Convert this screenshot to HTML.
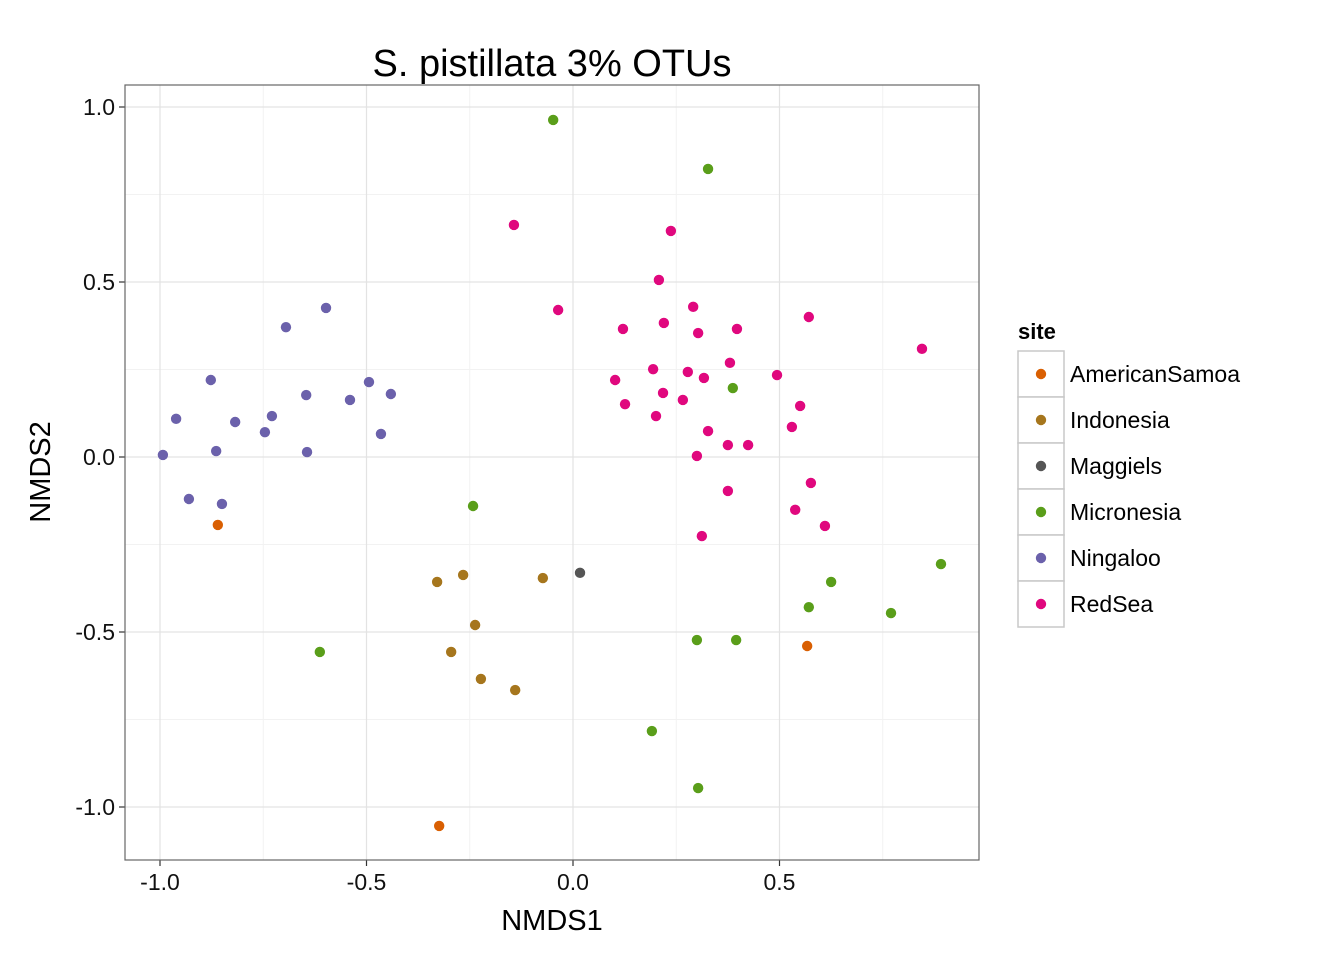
<!DOCTYPE html>
<html><head><meta charset="utf-8"><style>
html,body{margin:0;padding:0;background:#fff;}
svg{display:block;font-family:"Liberation Sans",Arial,sans-serif;}
</style></head><body>
<svg id="chart" width="1344" height="960" viewBox="0 0 1344 960"></svg>
<script>
const siteNames = ["AmericanSamoa","Indonesia","Maggiels","Micronesia","Ningaloo","RedSea"];
const siteColors = ["#D95F02","#A6761D","#555555","#5A9E1A","#6B61AB","#E0087E"];
const xTicks = [-1.0,-0.5,0.0,0.5];
const xTickLabels = ["-1.0","-0.5","0.0","0.5"];
const yTicks = [1.0,0.5,0.0,-0.5,-1.0];
const yTickLabels = ["1.0","0.5","0.0","-0.5","-1.0"];
const americanSamoaX = [-0.86,0.567,-0.324];
const americanSamoaY = [-0.194,-0.54,-1.054];
const indonesiaX = [-0.329,-0.266,-0.073,-0.237,-0.295,-0.223,-0.14];
const indonesiaY = [-0.357,-0.337,-0.346,-0.48,-0.557,-0.634,-0.666];
const maggielsX = [0.017];
const maggielsY = [-0.331];
const micronesiaX = [-0.048,0.327,0.387,-0.242,-0.613,0.300,0.395,0.571,0.625,0.770,0.891,0.191,0.303];
const micronesiaY = [0.963,0.823,0.197,-0.14,-0.557,-0.523,-0.523,-0.429,-0.357,-0.446,-0.306,-0.783,-0.946];
const ningalooX = [-0.993,-0.961,-0.930,-0.877,-0.864,-0.850,-0.818,-0.746,-0.729,-0.695,-0.646,-0.644,-0.598,-0.540,-0.494,-0.465,-0.441];
const ningalooY = [0.006,0.109,-0.12,0.22,0.017,-0.134,0.1,0.071,0.117,0.371,0.177,0.014,0.426,0.163,0.214,0.066,0.18];
const redSeaX = [-0.143,-0.036,0.237,0.208,0.291,0.121,0.220,0.303,0.397,0.571,0.845,0.102,0.194,0.278,0.317,0.380,0.494,0.126,0.201,0.218,0.266,0.327,0.375,0.424,0.530,0.550,0.300,0.375,0.576,0.538,0.610,0.312];
const redSeaY = [0.663,0.42,0.646,0.506,0.429,0.366,0.383,0.354,0.366,0.4,0.309,0.22,0.251,0.243,0.226,0.269,0.234,0.151,0.117,0.183,0.163,0.074,0.034,0.034,0.086,0.146,0.003,-0.097,-0.074,-0.151,-0.197,-0.226];

const seriesX = [americanSamoaX,indonesiaX,maggielsX,micronesiaX,ningalooX,redSeaX];
const seriesY = [americanSamoaY,indonesiaY,maggielsY,micronesiaY,ningalooY,redSeaY];

const P = {l:125,t:85,r:979,b:860};
const sx = v => 573 + 413*v;
const sy = v => 457 - 350*v;
const NS = "http://www.w3.org/2000/svg";
const svg = document.getElementById('chart');
function mk(tag, attrs, parent){
  const e = document.createElementNS(NS, tag);
  for (const k in attrs) e.setAttribute(k, attrs[k]);
  (parent||svg).appendChild(e);
  return e;
}
const panel = mk('rect',{x:P.l,y:P.t,width:P.r-P.l,height:P.b-P.t,fill:'#fff'});


for (let i=0;i<xTicks.length;i++){
  const m = sx(xTicks[i]+0.25);
  if (m<P.r){ const g=mk('line',{x1:m,x2:m,y1:P.t,y2:P.b,stroke:'#f2f2f2','stroke-width':1});
      }
}
for (let i=0;i<yTicks.length;i++){
  const m = sy(yTicks[i]+0.25);
  if (m>P.t && m<P.b){ const g=mk('line',{x1:P.l,x2:P.r,y1:m,y2:m,stroke:'#f2f2f2','stroke-width':1});
      }
}
xTicks.forEach((t,i)=>{
  const x=sx(t);
  const g=mk('line',{x1:x,x2:x,y1:P.t,y2:P.b,stroke:'#e3e3e3','stroke-width':1.2});
   
  const tk=mk('line',{x1:x,x2:x,y1:P.b,y2:P.b+6,stroke:'#333','stroke-width':1.2});
   
  const lb=mk('text',{x:x,y:P.b+30,'text-anchor':'middle','font-size':23,fill:'#111'});
  lb.textContent=xTickLabels[i];
   
});
yTicks.forEach((t,i)=>{
  const y=sy(t);
  const g=mk('line',{x1:P.l,x2:P.r,y1:y,y2:y,stroke:'#e3e3e3','stroke-width':1.2});
   
  const tk=mk('line',{x1:P.l-6,x2:P.l,y1:y,y2:y,stroke:'#333','stroke-width':1.2});
   
  const lb=mk('text',{x:P.l-10,y:y+8,'text-anchor':'end','font-size':23,fill:'#111'});
  lb.textContent=yTickLabels[i];
   
});
const border=mk('rect',{x:P.l,y:P.t,width:P.r-P.l,height:P.b-P.t,fill:'none',stroke:'#666','stroke-width':1.2});
 
seriesX.forEach((xs,s)=>{
  xs.forEach((v,i)=>{
    const c=mk('circle',{cx:sx(v),cy:sy(seriesY[s][i]),r:5.2,fill:siteColors[s]});
    
    
  });
});
const title=mk('text',{x:552,y:76,'text-anchor':'middle','font-size':38,fill:'#000'});
title.textContent='S. pistillata 3% OTUs';
 
const xl=mk('text',{x:552,y:930,'text-anchor':'middle','font-size':29,fill:'#000'});
xl.textContent='NMDS1';
 
const yl=mk('text',{x:0,y:0,'text-anchor':'middle','font-size':29,fill:'#000',transform:'translate(50,472) rotate(-90)'});
yl.textContent='NMDS2';
 
const lt=mk('text',{x:1018,y:339,'font-size':22,'font-weight':'bold',fill:'#000'});
lt.textContent='site';
 
siteNames.forEach((n,i)=>{
  const y0=351+i*46;
  const g=mk('g',{});
   
  mk('rect',{x:1018,y:y0,width:46,height:46,fill:'#fff',stroke:'#c8c8c8','stroke-width':1.5},g);
  mk('circle',{cx:1041,cy:y0+23,r:5.2,fill:siteColors[i]},g);
  const t=mk('text',{x:1070,y:y0+31,'font-size':23,fill:'#000'},g);
  t.textContent=n;
});
</script>
</body></html>
